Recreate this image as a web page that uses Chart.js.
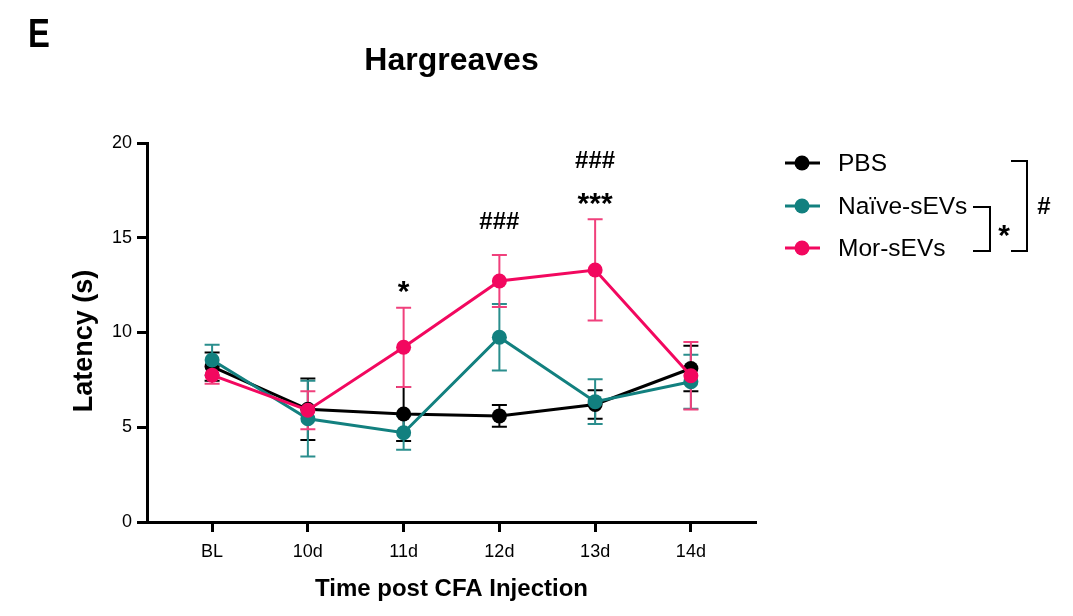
<!DOCTYPE html>
<html>
<head>
<meta charset="utf-8">
<title>Hargreaves</title>
<script src="https://cdn.jsdelivr.net/npm/chart.js@4"></script>
<style>
  html, body { margin: 0; padding: 0; background: #fff; }
  #wrap { width: 1073px; height: 616px; }
</style>
</head>
<body>
<div id="wrap"><canvas id="chart" width="1073" height="616"></canvas></div>
<script>
const timepoints = ['BL', '10d', '11d', '12d', '13d', '14d'];

const pbsMean = [8.2, 5.95, 5.7, 5.6, 6.2, 8.1];
const pbsSem = [0.75, 1.62, 1.43, 0.58, 0.75, 1.2];

const naiveMean = [8.55, 5.45, 4.71, 9.75, 6.35, 7.4];
const naiveSem = [0.8, 2.0, 0.9, 1.75, 1.18, 1.42];

const morMean = [7.75, 5.9, 9.22, 12.72, 13.3, 7.72];
const morSem = [0.45, 1.0, 2.09, 1.37, 2.67, 1.78];

const yTicks = [0, 5, 10, 15, 20];

// significance marks above timepoints (index, baseline value, text)
const markIndex = [2, 3, 4, 4];
const markValue = [11.64, 15.45, 16.28, 18.7];
const markText = ['*', '###', '***', '###'];

const groups = ['PBS', 'Naïve-sEVs', 'Mor-sEVs'];
const colors = ['#000000', '#12807f', '#f2085f'];
const barColors = ['#000000', '#2a8e8d', '#f0407c'];

const FONT = "'Liberation Sans', Arial, sans-serif";

function toPoints(values) {
  return values.map((v, i) => ({ x: i, y: v }));
}

function markFont(text) {
  return text.startsWith('*') ? 'bold 30px ' + FONT : 'bold 24px ' + FONT;
}

// SEM whiskers, drawn under the lines
const errorBars = {
  id: 'errorBars',
  beforeDatasetsDraw(chart) {
    const { ctx, scales: { x, y } } = chart;
    const sets = [[pbsMean, pbsSem], [naiveMean, naiveSem], [morMean, morSem]];
    ctx.save();
    ctx.lineWidth = 2;
    sets.forEach(([mean, sem], g) => {
      ctx.strokeStyle = barColors[g];
      mean.forEach((m, i) => {
        const px = x.getPixelForValue(i);
        const top = y.getPixelForValue(m + sem[i]);
        const bot = y.getPixelForValue(m - sem[i]);
        ctx.beginPath();
        ctx.moveTo(px, top); ctx.lineTo(px, bot);
        ctx.moveTo(px - 7.5, top); ctx.lineTo(px + 7.5, top);
        ctx.moveTo(px - 7.5, bot); ctx.lineTo(px + 7.5, bot);
        ctx.stroke();
      });
    });
    ctx.restore();
  }
};

// titles, stars, legend and brackets
const decorations = {
  id: 'decorations',
  afterDraw(chart) {
    const { ctx, chartArea, scales: { x, y } } = chart;
    ctx.save();
    ctx.fillStyle = '#000';

    // panel letter, set a little condensed
    ctx.save();
    ctx.translate(28, 47);
    ctx.scale(0.8, 1);
    ctx.font = 'bold 41px ' + FONT;
    ctx.textAlign = 'left';
    ctx.textBaseline = 'alphabetic';
    ctx.fillText('E', 0, 0);
    ctx.restore();

    ctx.font = 'bold 32px ' + FONT;
    ctx.textAlign = 'center';
    ctx.textBaseline = 'alphabetic';
    ctx.fillText('Hargreaves', (chartArea.left + chartArea.right) / 2, 70);

    // y axis title
    ctx.save();
    ctx.translate(85, 341);
    ctx.rotate(-Math.PI / 2);
    ctx.font = 'bold 27px ' + FONT;
    ctx.textBaseline = 'middle';
    ctx.fillText('Latency (s)', 0, 0);
    ctx.restore();

    markText.forEach((t, k) => {
      ctx.font = markFont(t);
      ctx.fillText(t, x.getPixelForValue(markIndex[k]), y.getPixelForValue(markValue[k]));
    });

    // legend
    const rows = [163, 206, 248];
    ctx.textAlign = 'left';
    ctx.textBaseline = 'middle';
    ctx.font = '24.5px ' + FONT;
    groups.forEach((name, g) => {
      const cy = rows[g];
      ctx.strokeStyle = colors[g];
      ctx.lineWidth = 3;
      ctx.beginPath();
      ctx.moveTo(785, cy); ctx.lineTo(820, cy);
      ctx.stroke();
      ctx.fillStyle = colors[g];
      ctx.beginPath();
      ctx.arc(802, cy, 7.5, 0, Math.PI * 2);
      ctx.fill();
      ctx.fillStyle = '#000';
      ctx.fillText(name, 838, cy + 1);
    });

    // comparison brackets
    ctx.strokeStyle = '#000';
    ctx.lineWidth = 2;
    ctx.beginPath();
    ctx.moveTo(973, 207); ctx.lineTo(990, 207); ctx.lineTo(990, 251); ctx.lineTo(973, 251);
    ctx.moveTo(1011, 161); ctx.lineTo(1027, 161); ctx.lineTo(1027, 251); ctx.lineTo(1011, 251);
    ctx.stroke();

    ctx.textAlign = 'center';
    ctx.textBaseline = 'alphabetic';
    ctx.font = 'bold 30px ' + FONT;
    ctx.fillText('*', 1004, 245);
    ctx.font = 'bold 24px ' + FONT;
    ctx.fillText('#', 1044, 214);
    ctx.restore();
  }
};

function lineSet(label, data, g, order) {
  return {
    label,
    data: toPoints(data),
    borderColor: colors[g],
    backgroundColor: colors[g],
    pointBackgroundColor: colors[g],
    pointBorderColor: colors[g],
    pointRadius: 7.5,
    pointBorderWidth: 0,
    borderWidth: 3,
    tension: 0,
    order
  };
}

new Chart(document.getElementById('chart'), {
  type: 'line',
  data: {
    datasets: [
      lineSet(groups[0], pbsMean, 0, 3),
      lineSet(groups[1], naiveMean, 1, 2),
      lineSet(groups[2], morMean, 2, 1)
    ]
  },
  options: {
    responsive: false,
    animation: false,
    events: [],
    layout: { padding: { left: 0, right: 317, top: 143, bottom: 0 } },
    plugins: {
      legend: { display: false },
      tooltip: { enabled: false },
      title: { display: false }
    },
    scales: {
      x: {
        type: 'linear',
        min: -0.68,
        max: 5.68,
        afterFit(scale) { scale.height = 94; },
        afterBuildTicks(scale) { scale.ticks = timepoints.map((_, i) => ({ value: i })); },
        border: { display: true, color: '#000', width: 3 },
        grid: { drawOnChartArea: false, drawTicks: true, tickLength: 10, tickWidth: 3, tickColor: '#000' },
        ticks: {
          padding: 9,
          color: '#000',
          font: { family: FONT, size: 18 },
          callback: (v) => timepoints[v] ?? ''
        },
        title: {
          display: true,
          text: 'Time post CFA Injection',
          color: '#000',
          font: { family: FONT, size: 24, weight: 'bold' },
          padding: { top: 0, bottom: 12 }
        }
      },
      y: {
        min: 0,
        max: 20,
        afterFit(scale) { scale.width = 147; },
        afterBuildTicks(scale) { scale.ticks = yTicks.map(v => ({ value: v })); },
        border: { display: true, color: '#000', width: 3 },
        grid: { drawOnChartArea: false, drawTicks: true, tickLength: 10, tickWidth: 3, tickColor: '#000' },
        ticks: {
          padding: 5,
          color: '#000',
          font: { family: FONT, size: 18 }
        }
      }
    }
  },
  plugins: [errorBars, decorations]
});
</script>
</body>
</html>
